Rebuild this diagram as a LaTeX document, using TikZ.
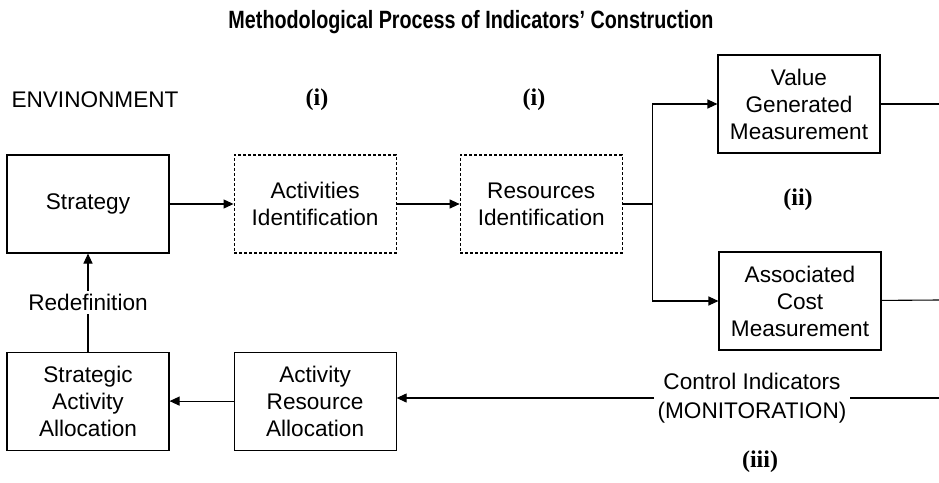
\documentclass[tikz,border=0pt]{standalone}
\usepackage{fontspec}
\setmainfont{Liberation Sans}
\newfontfamily\romfont{Liberation Serif}
\usepackage{tikz}
\usetikzlibrary{arrows.meta,positioning}

\begin{document}
\begin{tikzpicture}[x=1pt,y=-1pt,node distance=64pt,line width=1.1pt,
    font=\fontsize{22.6}{27}\selectfont,>={Triangle[length=10pt,width=9pt]}]
    \tikzstyle{box}=[draw,align=center,inner sep=0pt,minimum width=162pt,minimum height=98pt]
    \tikzstyle{dbox}=[box,dash pattern=on 3pt off 2pt]
    \tikzstyle{tag}=[font=\romfont\bfseries\fontsize{24}{28}\selectfont]
    \useasboundingbox (0,0) rectangle (939,482);
    \node[font=\bfseries\fontsize{25}{28}\selectfont] (title) at (471,22) {\scalebox{0.79}[1]{Methodological Process of Indicators' Construction}};
    \node (env) at (95,100) {ENVINONMENT};
    \node[tag] (i1) at (317,100) {(i)};
    \node[tag] (i2) at (534,100) {(i)};
    \node[tag] (ii) at (798,200) {(ii)};
    \node[tag] (iii) at (760,462) {(iii)};
    \node[box] (strat) at (88,204) {Strategy};
    \node[dbox,right=of strat] (act) {Activities\\Identification};
    \node[dbox,right=63pt of act] (res) {Resources\\Identification};
    \node[box] (val) at (799,104) {Value\\Generated\\Measurement};
    \node[box] (cost) at (800,301) {Associated\\Cost\\Measurement};
    \node[box,below=98pt of strat] (saa) {Strategic\\Activity\\Allocation};
    \node[box,right=of saa] (ara) {Activity\\Resource\\Allocation};
    \node[align=center,inner sep=3pt,font=\fontsize{22.6}{29}\selectfont] (ctl) at (752,398) {Control Indicators\\(MONITORATION)};
    \coordinate[right=30pt of res] (split);
    \coordinate (vend) at (939,104);
    \coordinate (cend) at (939,300);
    \coordinate (iend) at (939,398);
    \draw[->] (strat) -- (act);
    \draw[->] (act) -- (res);
    \draw (res) -- (split);
    \draw[->] (split) |- (val);
    \draw[->] (split) |- (cost);
    \draw (val) -- (vend);
    \draw (cost) -- (cend);
    \draw (iend) -- (ctl);
    \draw[->] (ctl.west) -- (ctl.west -| ara.east);
    \draw[->] (ara) -- (saa);
    \draw[->] (saa) -- node[fill=white,inner sep=3pt] (redef) {Redefinition} (strat);
  \end{tikzpicture}
\end{document}
